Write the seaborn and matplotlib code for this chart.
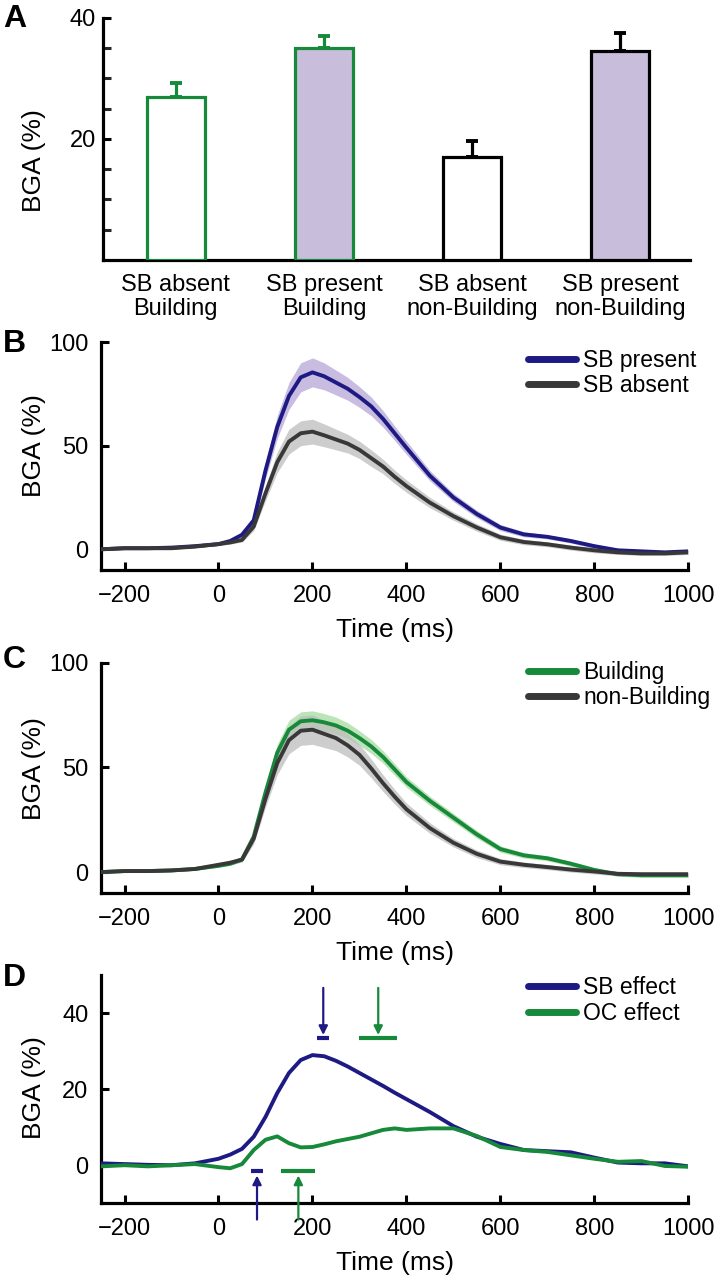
import numpy as np
import pandas as pd
import matplotlib
matplotlib.use("Agg")
import matplotlib.pyplot as plt
import seaborn as sns

sns.set_theme(style="ticks")
plt.rcParams['font.family'] = ['Liberation Sans', 'DejaVu Sans']
plt.rcParams['text.color'] = 'black'
plt.rcParams['axes.labelcolor'] = 'black'

# ---------------- data ----------------
bar_labels = ["SB absent\nBuilding", "SB present\nBuilding", "SB absent\nnon-Building", "SB present\nnon-Building"]
bar_values = [27.0, 35.0, 17.0, 34.5]
bar_errors = [2.3, 2.0, 2.6, 3.0]

time_ms = [-250, -200, -150, -100, -50, 0, 25, 50, 75, 100, 125, 150, 175, 200, 225, 250, 275,
           300, 325, 350, 375, 400, 450, 500, 550, 600, 650, 700, 750, 800, 850, 900, 950, 1000]

sb_present = [0, 0.5, 0.5, 0.8, 1.5, 2.5, 4, 7, 14, 38, 59, 74, 83, 85.4, 83.5, 80.5, 77.5,
              73.5, 69, 63, 56, 49, 35.5, 25, 17, 10.5, 7.2, 6, 4, 1.5, -0.5, -1, -1.5, -1]
sb_present_sem = [0.5, 0.5, 0.5, 0.5, 0.6, 0.7, 0.8, 1, 2, 4, 5.5, 6.5, 7, 7, 6.5, 6, 5.5,
                  5, 4.5, 4, 3.5, 3.2, 2.5, 2, 1.8, 1.5, 1.2, 1, 1, 1, 0.8, 0.8, 0.8, 0.8]
sb_absent = [0, 0.5, 0.5, 0.5, 1.3, 2.5, 3.3, 4.5, 11, 27, 42, 52, 56, 56.8, 55, 53, 51,
             48, 44, 40, 35, 30.5, 22.5, 16, 10.5, 5.8, 3.5, 2.4, 0.8, -0.5, -1.5, -2, -2, -1.5]
sb_absent_sem = [0.5, 0.5, 0.5, 0.5, 0.6, 0.7, 0.8, 1, 2, 3.5, 5, 6, 6, 6, 5.5, 5, 4.5,
                 4.2, 4, 3.5, 3.2, 3, 2.5, 2, 1.8, 1.5, 1.3, 1.2, 1.2, 1.2, 1, 1, 1, 1]

building = [0, 0.5, 0.5, 0.8, 1.5, 3, 4, 6, 17, 38, 57, 68, 72, 72.5, 71.5, 70, 67.5,
            64, 60, 55, 49, 43, 34, 26, 18, 11, 8, 6.6, 4, 1, -1, -1.5, -1.5, -1.5]
building_sem = [0.5, 0.5, 0.5, 0.5, 0.6, 0.7, 0.8, 1, 2, 3, 4, 4.5, 4.5, 4.5, 4.2, 4, 3.8,
                3.5, 3.3, 3, 2.8, 2.5, 2.2, 2, 1.8, 1.5, 1.3, 1.2, 1.2, 1.2, 1, 1, 1, 1]
non_building = [0, 0.5, 0.5, 0.8, 1.5, 3.5, 4.5, 6, 16, 35, 52, 63, 67.5, 68, 66, 64, 60.5,
                56, 49.5, 42.5, 36, 30, 21, 14, 8.7, 5, 3.5, 2.4, 1.2, 0.3, -0.8, -1, -1, -1]
non_building_sem = [0.5, 0.5, 0.5, 0.5, 0.6, 0.8, 1, 1.2, 2.5, 4, 5.5, 6.5, 7, 7, 6.5, 6, 5.5,
                    5, 4.5, 4, 3.5, 3, 2.5, 2, 1.8, 1.5, 1.3, 1.2, 1.2, 1.2, 1, 1, 1, 1]

sb_effect = [0.5, 0.3, 0.1, 0, 0.5, 1.7, 2.8, 4.3, 7.5, 12.7, 19, 24.3, 27.7, 29, 28.7, 27.5, 26,
             24.3, 22.6, 20.9, 19.1, 17.4, 14, 10.3, 7.5, 5.6, 4, 3.7, 3.4, 2, 0.7, 0.5, 0.5, -0.3]
oc_effect = [-0.3, 0, -0.3, 0, 0.3, -0.5, -0.8, 0.3, 4, 6.7, 7.6, 5.8, 4.7, 4.8, 5.5, 6.3, 6.9,
             7.5, 8.4, 9.3, 9.7, 9.3, 9.7, 9.7, 7.7, 4.8, 4, 3.5, 2.6, 1.7, 0.9, 1.1, -0.2, -0.4]

# significance windows (ms) and peak / onset markers (ms)
sb_peak_window = [210, 235]
oc_peak_window = [300, 380]
sb_onset_window = [69, 94]
oc_onset_window = [133, 206]
sb_peak_time, oc_peak_time = 223, 340
sb_onset_time, oc_onset_time = 82, 170

# ---------------- style ----------------
NAVY = "#1d1a84"
GREEN = "#17893a"
DARK = "#383838"
LAV = "#c9bddc"
TICK_FS = 17
LAB_FS = 19
LEG_FS = 16.5

fig = plt.figure(figsize=(7.18, 12.8), dpi=100)

def style_axis(ax, ypad=9, xpad=10.5):
    sns.despine(ax=ax)
    for s in ("left", "bottom"):
        ax.spines[s].set_linewidth(2.3)
        ax.spines[s].set_color("black")
    ax.tick_params(direction="in", width=2.2, length=6, labelsize=TICK_FS, colors="black")
    ax.tick_params(axis="y", pad=ypad)
    ax.tick_params(axis="x", pad=xpad)

# ---------------- A ----------------
axA = fig.add_axes([0.1435, 0.797, 0.8175, 0.189])
dfA = pd.DataFrame({"cond": bar_labels, "val": bar_values})
sns.barplot(data=dfA, x="cond", y="val", ax=axA, width=0.39, errorbar=None, color="white")
edges = [GREEN, GREEN, "black", "black"]
faces = ["white", LAV, "white", LAV]
for p, ec, fc in zip(axA.patches, edges, faces):
    p.set_edgecolor(ec)
    p.set_facecolor(fc)
    p.set_linewidth(2.3)
    p.set_zorder(3)
for i in range(4):
    axA.errorbar(i, bar_values[i], yerr=[[0], [bar_errors[i]]], fmt="none",
                 ecolor=edges[i], elinewidth=2.3, capsize=4, capthick=2.8, zorder=2)
axA.set_ylim(0, 40)
axA.set_xlim(-0.49, 3.47)
style_axis(axA, ypad=5, xpad=10)
axA.set_yticks([20, 40])
axA.set_yticks([5, 10, 15, 25, 30, 35], minor=True)
axA.tick_params(axis="y", which="minor", direction="in", width=2.2, length=6)
axA.tick_params(axis="x", length=0)
axA.set_xlabel("")
axA.set_ylabel("BGA (%)", fontsize=LAB_FS)
axA.yaxis.set_label_coords(-0.097, 0.41)
for t in axA.get_xticklabels():
    t.set_fontsize(TICK_FS)
    t.set_linespacing(1.15)

# ---------------- line panels ----------------
def line_panel(rect, series, ylim, yticks, leg_y, ylab_y):
    ax = fig.add_axes(rect)
    for name, y, sem, col, band in series:
        y = np.asarray(y, float)
        if sem is not None:
            sem = np.asarray(sem, float)
            ax.fill_between(time_ms, y - sem, y + sem, color=band, alpha=0.75, lw=0, zorder=1)
        sns.lineplot(x=time_ms, y=y, ax=ax, color=col, lw=2.8, label=name, zorder=3)
    ax.set_xlim(-250, 1000)
    ax.set_ylim(*ylim)
    ax.set_xticks([-200, 0, 200, 400, 600, 800, 1000])
    ax.set_yticks(yticks)
    style_axis(ax)
    ax.set_xlabel("Time (ms)", fontsize=LAB_FS, labelpad=8)
    ax.set_ylabel("BGA (%)", fontsize=LAB_FS)
    ax.yaxis.set_label_coords(-0.094, ylab_y)
    leg = ax.legend(loc="upper left", bbox_to_anchor=(0.727, leg_y), frameon=False,
                    borderaxespad=0, borderpad=0,
                    fontsize=LEG_FS, handlelength=2.1, handletextpad=0.3, labelspacing=0.12)
    for h in leg.get_lines():
        h.set_linewidth(5)
    for txt in leg.get_texts():
        txt.set_color("black")
    return ax

axB = line_panel([0.1407, 0.5547, 0.818, 0.178],
                 [("SB present", sb_present, sb_present_sem, NAVY, "#b7a6d8"),
                  ("SB absent", sb_absent, sb_absent_sem, DARK, "#bdbdbd")],
                 (-10, 100), [0, 50, 100], 0.972, 0.544)
axC = line_panel([0.1407, 0.3023, 0.818, 0.18],
                 [("Building", building, building_sem, GREEN, "#a6dca0"),
                  ("non-Building", non_building, non_building_sem, DARK, "#bdbdbd")],
                 (-10, 100), [0, 50, 100], 1.009, 0.539)
axD = line_panel([0.1407, 0.06, 0.818, 0.178],
                 [("SB effect", sb_effect, None, NAVY, None),
                  ("OC effect", oc_effect, None, GREEN, None)],
                 (-10, 50), [0, 20, 40], 0.995, 0.509)

# significance markers in D
for win, y, col in [(sb_peak_window, 33.4, NAVY), (oc_peak_window, 33.4, GREEN),
                    (sb_onset_window, -1.5, NAVY), (oc_onset_window, -1.5, GREEN)]:
    axD.plot(win, [y, y], color=col, lw=3, solid_capstyle="butt", zorder=4)
for t, col in [(sb_peak_time, NAVY), (oc_peak_time, GREEN)]:
    axD.annotate("", xy=(t, 34.3), xytext=(t, 46.7),
                 arrowprops=dict(arrowstyle="-|>", color=col, lw=1.6, mutation_scale=13,
                                 shrinkA=0, shrinkB=0), annotation_clip=False)
for t, col in [(sb_onset_time, NAVY), (oc_onset_time, GREEN)]:
    axD.annotate("", xy=(t, -2.7), xytext=(t, -14.3),
                 arrowprops=dict(arrowstyle="-|>", color=col, lw=1.6, mutation_scale=13,
                                 shrinkA=0, shrinkB=0), annotation_clip=False)

# panel letters
for letter, ypix in [("A", 19), ("B", 344), ("C", 660), ("D", 978)]:
    fig.text(0.004, 1 - ypix / 1280, letter, fontsize=23, fontweight="bold",
             va="center", ha="left", color="black")

fig.savefig("out.png", dpi=100)
